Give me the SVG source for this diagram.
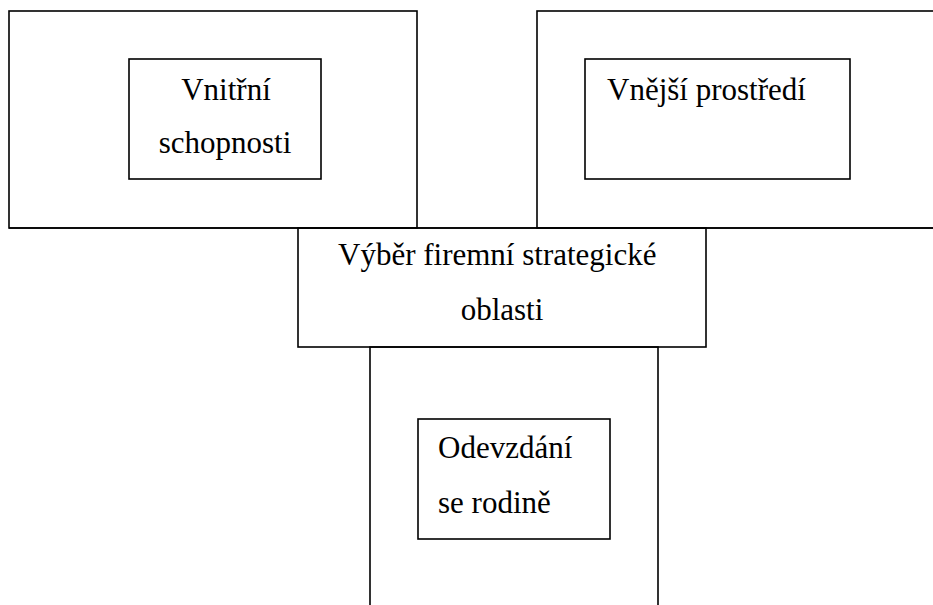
<svg xmlns="http://www.w3.org/2000/svg" width="933" height="605" viewBox="0 0 933 605">
<style>
.b{fill:none;stroke:#000;stroke-width:1.6}
.t{font-family:"Liberation Serif","DejaVu Serif",serif;font-size:31px;fill:#000}
</style>
<rect width="933" height="605" fill="#fff"/>
<g id="connectors">
<line class="b" x1="9" y1="228" x2="934" y2="228"/>
</g>
<g id="outer-left"><rect class="b" x="9" y="11" width="408" height="217"/></g>
<g id="outer-right"><rect class="b" x="537" y="11" width="400" height="217"/></g>
<g id="vnitrni">
<rect class="b" x="129" y="59" width="192" height="120"/>
<text class="t" x="226" y="100" text-anchor="middle">Vnitřní</text>
<text class="t" x="225" y="153" text-anchor="middle">schopnosti</text>
</g>
<g id="vnejsi">
<rect class="b" x="585" y="59" width="265" height="120"/>
<text class="t" x="607" y="100">Vnější prostředí</text>
</g>
<g id="vyber">
<rect class="b" x="298" y="228" width="408" height="119"/>
<text class="t" x="338" y="265">Výběr firemní strategické</text>
<text class="t" x="502" y="320" text-anchor="middle">oblasti</text>
</g>
<g id="outer-bottom">
<path class="b" d="M370 606V347H658V606"/>
</g>
<g id="odevzdani">
<rect class="b" x="418" y="419" width="192" height="120"/>
<text class="t" x="438" y="458">Odevzdání</text>
<text class="t" x="438" y="513">se rodině</text>
</g>
</svg>
